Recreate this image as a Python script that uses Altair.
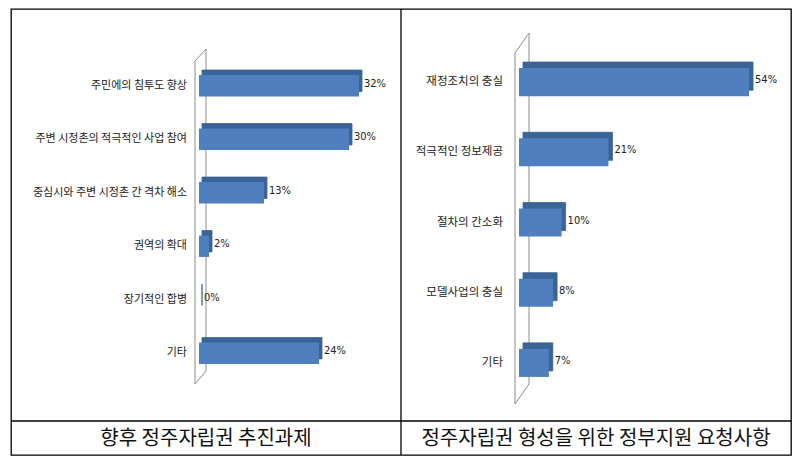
import altair as alt
import pandas as pd

# ---- data ----
left_cats = ["주민에의 침투도 향상", "주변 시정촌의 적극적인 사업 참여", "중심시와 주변 시정촌 간 격차 해소",
             "권역의 확대", "장기적인 합병", "기타"]
left_vals = [32, 30, 13, 2, 0, 24]
left_caption = "향후  정주자립권  추진과제"

right_cats = ["재정조치의 충실", "적극적인 정보제공", "절차의 간소화", "모델사업의 충실", "기타"]
right_vals = [54, 21, 10, 8, 7]
right_caption = "정주자립권 형성을 위한 정부지원 요청사항"

FRONT = "#4F7FBF"
DEPTH = "#3A6398"
WALL = "#8C8C8C"
KR = "Noto Sans CJK KR"
NUM = "Liberation Sans Narrow, DejaVu Sans Condensed, sans-serif"

W = 780          # whole table
H = 446
CELL_W = 390
CELL_H = 412


def wall_rules(fx, fy0, fy1, bx, by0, by1):
    d = pd.DataFrame({"k": [0]})
    segs = [(fx, fx, fy0, fy1), (bx, bx, by0, by1), (fx, bx, fy0, by0), (fx, bx, fy1, by1)]
    return [alt.Chart(d).mark_rule(color=WALL, strokeWidth=1).encode(
        x=alt.value(a), x2=alt.value(b), y=alt.value(c), y2=alt.value(e)) for a, b, c, e in segs]


def panel(cats, vals, xdom, xrange, yrange, lab_size, lab_dx, depth):
    df = pd.DataFrame({"cat": cats, "value": vals, "label": [f"{v}%" for v in vals]})
    x = alt.X("value:Q", scale=alt.Scale(domain=xdom, range=xrange), axis=None)
    y = alt.Y("cat:N", sort=cats,
              scale=alt.Scale(domain=cats, range=yrange, paddingInner=0.6, paddingOuter=0.3),
              axis=None)
    dx_, dy_ = depth
    base = alt.Chart(df)
    back = base.mark_bar(color=DEPTH, stroke=DEPTH, strokeWidth=0.8,
                         xOffset=dx_, x2Offset=dx_, yOffset=-dy_, y2Offset=-dy_).encode(
        x=x, x2=alt.datum(0), y=y)
    front = base.mark_bar(color=FRONT).encode(x=x, x2=alt.datum(0), y=y)
    vlab = base.mark_text(align="left", baseline="middle", dx=dx_ + 2, dy=-2,
                          font=NUM, fontSize=11, color="#222222").encode(
        x=x, y=y, text="label:N")
    clab = base.mark_text(align="right", baseline="middle", dx=lab_dx,
                          font=KR, fontSize=lab_size, color="#222222").encode(
        x=alt.datum(0), y=y, text="cat:N")
    return alt.layer(back, front, vlab, clab)


def caption(text, cx):
    df = pd.DataFrame({"t": [text]})
    return alt.Chart(df).mark_text(font=KR, fontSize=20, color="#111111",
                                   align="center", baseline="middle").encode(
        x=alt.value(cx), y=alt.value(CELL_H + 18), text="t:N")


grid_df = pd.DataFrame({"k": [0]})
vline = alt.Chart(grid_df).mark_rule(color="black", strokeWidth=1.3).encode(
    x=alt.value(CELL_W), y=alt.value(0), y2=alt.value(H))
hline = alt.Chart(grid_df).mark_rule(color="black", strokeWidth=1.3).encode(
    x=alt.value(0), x2=alt.value(W), y=alt.value(CELL_H))

left = panel(left_cats, left_vals, [0, 40], [188, 388], [50, 371], 11, -12, (3, 5))
right = panel(right_cats, right_vals, [0, 60], [CELL_W + 118, CELL_W + 373.6], [38, 389],
              11.5, -16, (4, 6))

decor = alt.layer(
    *wall_rules(184, 52, 375, 195, 40, 362),
    *wall_rules(CELL_W + 114, 44, 395, CELL_W + 128, 24, 375),
    vline, hline,
    caption(left_caption, CELL_W / 2),
    caption(right_caption, CELL_W + CELL_W / 2),
)

chart = alt.layer(decor, left, right).resolve_scale(
    x="independent", y="independent"
).properties(width=W, height=H).configure(
    padding={"left": 2, "top": 0, "right": 0, "bottom": 0},
    background="white",
).configure_view(stroke="black", strokeWidth=1.3)

chart.save("out.html", embed_options={"renderer": "svg", "actions": False})
